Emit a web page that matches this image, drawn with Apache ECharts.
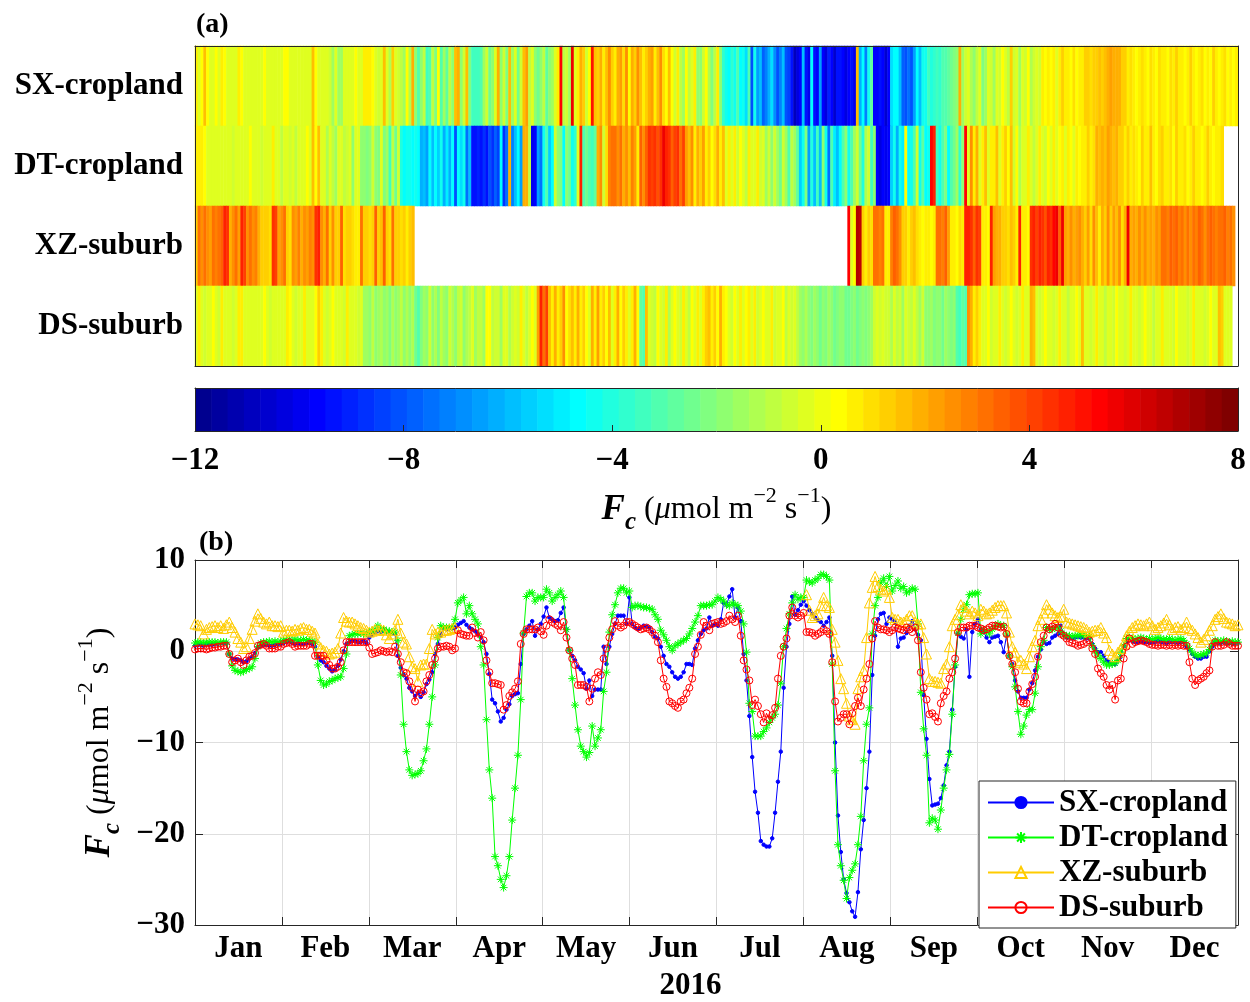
<!DOCTYPE html>
<html>
<head>
<meta charset="utf-8">
<script src="https://cdn.jsdelivr.net/npm/echarts@6/dist/echarts.min.js"></script>
<style>
  html, body { margin: 0; padding: 0; background: #fff; }
  #chart { width: 1250px; height: 1002px; }
</style>
</head>
<body>
<div id="chart"></div>
<script>
const SITES = ["SX-cropland", "DT-cropland", "XZ-suburb", "DS-suburb"];
const MONTHS = ["Jan", "Feb", "Mar", "Apr", "May", "Jun", "Jul", "Aug", "Sep", "Oct", "Nov", "Dec"];
const MONTH_START = [0, 31, 60, 91, 121, 152, 182, 213, 244, 274, 305, 335]; // day index, 2016
const YEAR_LABEL = "2016";
const N_DAYS = 366;

// (a) daily Fc per site, colour rows (umol m-2 s-1)
const HM_SX = [
  0.5,-0.2,0.3,1.5,0.4,-0.3,-0.3,0.2,-0.3,0.5, 0.4,-0.3,-0.3,-0.2,-0.3,0.5,0.4,-0.3,-0.3,-0.2,
  -0.3,-0.3,-0.2,-0.3,0.3,-0.3,-0.3,-0.2,-0.3,-0.3, -0.2,0.3,0.4,-0.3,-0.3,-0.2,-0.3,-0.3,-0.3,-0.2,
  -0.3,1.5,0.3,-0.3,-0.3,-0.3,-0.2,-0.5,-1.5,-0.3, -1.5,-1.5,-0.4,-0.3,-0.2,-0.3,0.3,-0.4,-0.3,0.5,
  0.5,0.6,0.4,-0.2,-0.5,-0.3,1.6,-0.4,-1.2,1.4, -0.3,-0.5,-0.8,-1.5,0.3,-1.2,1.8,-2.0,-3.2,-1.8,
  -0.8,-3.3,-3.0,-1.0,-2.2,0.3,-3.2,-1.6,-2.8,-0.8, -1.9,1.7,2.0,-1.8,-0.6,1.5,-2.2,-3.5,-3.4,-3.3,
  -3.0,-1.5,-0.5,-2.6,-1.8,-0.3,1.8,-1.8,-0.6,-2.2, 1.7,-1.6,-0.4,-2.6,-0.5,1.6,2.1,-1.0,-0.3,-1.9,
  -2.4,-1.7,-0.9,-2.8,-2.0,-1.5,-0.3,0.8,5.2,-0.8, -0.5,-1.4,5.5,-0.4,0.6,1.8,1.2,-0.5,0.3,5.0,
  1.6,1.3,2.0,0.8,1.5,2.4,1.2,0.6,1.8,2.3, 1.0,2.5,0.4,2.0,1.3,2.6,1.5,0.5,1.2,1.8,
  2.2,0.6,1.6,2.6,1.0,0.2,1.5,0.4,-0.6,0.6, -0.8,-1.5,0.4,-1.0,-0.3,0.5,-1.8,-2.0,-0.6,0.2,
  -1.2,-2.2,-0.8,0.5,-1.8,-3.6,-4.2,-4.6,-3.8,-4.2, -3.0,-4.8,-4.2,-5.4,-3.2,-8.0,-4.5,-6.5,-6.0,-7.8,
  -7.2,-6.3,-5.2,-7.0,-8.0,-7.3,-6.0,-8.2,-8.5,-9.4, -11.0,-10.2,-9.6,-6.0,-9.5,-10.0,-4.8,-9.2,-9.8,-6.5,
  -9.6,-10.2,-9.0,-9.8,-10.6,-9.5,-9.2,-9.8,-10.4,-9.6, -9.2,-10.0,1.6,-6.2,-4.8,-7.2,-4.5,-2.8,-9.6,-9.8,
  -9.4,-9.8,-10.6,-9.6,-5.4,-4.6,-4.8,-6.0,-7.8,-8.2, -7.6,-8.0,-6.6,-4.8,-5.8,-4.5,-4.2,-3.5,-4.0,-3.8,
  -3.5,-3.6,-3.0,-3.2,-2.8,-2.5,-2.2,-2.0,1.8,-1.5, -0.6,-0.3,-1.2,-2.0,-1.0,-0.3,-2.2,-1.4,-0.4,-0.5,
  -1.6,-0.3,-0.6,0.3,-0.4,-1.0,1.2,-0.5,-0.3,-1.4, -0.4,-0.5,0.4,-1.2,-0.6,-0.3,-0.5,0.5,0.3,0.8,
  0.4,0.8,-0.2,0.6,1.2,0.5,0.8,0.4,1.0,0.3, 0.6,0.8,1.2,1.3,1.0,1.4,1.2,1.5,1.3,1.6,
  2.0,2.1,1.8,2.0,1.9,1.4,1.2,0.8,1.0,0.6, 0.4,0.8,1.0,0.5,0.4,0.9,0.6,0.4,1.1,0.7,
  0.5,0.4,1.0,0.6,1.3,0.8,0.5,0.4,0.7,1.4, 0.8,0.4,0.5,1.0,0.4,0.6,0.4,1.2,0.5,0.4,
  0.6,1.0,0.4,0.5,0.4,0.5
];
const HM_DT = [
  0.5,0.5,0.5,0.4,-0.3,-0.2,-0.3,-0.3,-0.4,-0.3, -0.2,-0.3,-0.3,-0.5,-0.3,-0.2,-0.3,-0.3,-0.4,0.4,
  -0.3,-0.3,-0.2,-0.6,-0.3,-0.3,-0.2,0.5,-0.3,-0.3, -0.8,-0.4,-0.3,-0.6,-0.3,-1.0,-0.3,-0.4,-0.3,0.3,
  -0.3,1.5,0.4,1.6,-0.3,-0.4,-1.2,-0.3,-0.8,-1.6, -0.4,-0.3,-1.0,-0.5,-0.3,-1.8,-0.4,-0.3,-2.0,-2.0,
  -2.2,-1.8,-0.6,-2.0,-2.2,-0.4,-2.1,-1.5,-3.5,-1.0, -2.4,-0.6,-4.0,-4.6,-4.5,-4.3,-4.6,-4.4,-4.8,-6.2,
  -5.8,-6.4,-4.6,-6.0,-4.7,-5.6,-4.4,-6.2,-5.0,-6.3, -4.6,-8.0,-4.6,-5.2,-4.5,-7.5,-6.0,-9.2,-9.4,-9.0,
  -9.2,-8.8,-9.4,-8.0,-8.6,-7.8,-8.4,-4.6,-8.6,-7.5, 1.8,-7.2,-5.8,-4.8,-6.5,1.8,2.0,-1.0,-10.0,-9.8,
  -6.5,-7.5,-4.5,-3.2,-5.5,-4.6,-0.5,-1.8,-2.2,-4.6, -1.9,-2.6,-4.4,-3.6,-0.3,4.8,-3.0,-2.5,-3.2,-3.4,
  -2.8,2.0,2.4,-0.5,1.0,2.9,3.1,3.0,2.6,3.2, 2.0,2.5,1.5,2.8,2.2,0.8,3.5,2.6,3.6,4.4,
  4.2,4.5,3.8,4.5,5.6,4.6,4.4,3.6,4.2,4.4, 3.0,4.0,2.2,1.6,2.4,0.8,1.8,1.4,2.2,0.6,
  1.3,0.4,1.0,1.8,0.5,1.6,-0.3,0.6,-0.3,0.8, -0.5,0.4,-0.3,-0.8,0.5,-0.4,-0.3,0.6,-0.6,-0.4,
  -1.5,-0.6,-2.0,-0.5,-1.4,-2.4,-0.5,-1.6,-3.0,-0.8, -1.6,-2.8,-5.6,-4.5,-2.2,-6.5,-4.0,-5.8,-3.5,-6.0,
  -1.8,-4.5,-7.4,-3.2,-5.0,-6.0,-4.6,-3.0,-2.0,-4.5, -3.0,-1.5,-0.5,-2.5,-4.0,-1.2,-0.6,-3.4,-2.0,-9.8,
  -10.2,-9.8,-10.0,-9.6,-5.6,-4.5,-6.2,-4.5,-5.0,0.4, -4.6,-4.3,-3.0,-0.5,-4.5,-2.8,-4.6,-4.4,5.4,4.6,
  -3.5,-4.2,-3.0,-2.2,-4.6,-3.2,-2.5,-1.6,-3.8,-2.0, 5.2,-0.3,2.4,0.5,1.8,-0.3,0.6,1.5,-0.4,0.8,
  0.5,1.6,-0.3,0.8,1.2,0.4,1.6,-0.5,0.3,-1.2, -0.4,-0.3,0.5,-0.3,-1.0,-0.4,0.5,-0.3,-0.5,0.4,
  -0.3,0.6,-0.4,0.4,0.8,-0.3,0.5,0.3,-0.4,0.6, 0.4,0.8,0.5,1.2,0.6,1.0,1.8,1.5,2.0,1.6,
  2.2,2.0,1.5,1.8,1.2,1.4,0.8,1.2,0.5,1.0, 0.6,0.4,1.2,0.6,0.8,1.5,0.5,0.4,0.9,1.2,
  0.6,0.5,1.0,0.4,1.3,0.7,0.5,1.0,0.4,0.6, 1.2,0.5,0.8,0.4,0.5,1.4,0.6,0.4,0.8,0.5,
  0.9,null,null,null,null,null
];
// XZ-suburb has no record from mid-March to mid-August
const HM_XZ_EARLY = [
  1.2,3.0,2.4,3.2,2.6,2.2,3.0,2.8,3.2,3.6, 4.6,4.4,2.0,2.6,3.0,2.2,4.6,4.2,2.6,3.0,
  2.4,2.8,2.0,1.2,1.4,1.3,1.0,4.5,4.2,2.2, 2.6,3.0,1.2,1.0,2.6,2.2,2.8,1.8,2.5,2.2,
  2.8,2.4,4.4,4.6,2.6,2.0,3.2,1.2,2.6,1.4, 1.2,3.4,1.0,1.4,1.2,1.0,0.5,0.6,3.2,1.4,
  1.2,1.0,1.3,3.6,1.2,1.5,3.4,1.3,1.0,3.0, 1.4,1.2,1.0,1.3,0.5,1.2,1.6
];
const HM_XZ_GAP = 152;
const HM_XZ_LATE = [
  5.4,-0.4,0.3,7.0,6.5,1.2,0.8,1.3,1.0,3.0, 3.2,2.8,3.0,0.5,0.6,2.8,3.4,3.0,2.6,1.2,
  1.4,0.8,1.2,1.5,1.0,0.5,0.4,0.6,0.5,0.4, 0.6,3.0,3.2,2.8,3.4,2.2,0.5,0.6,0.4,1.0,
  0.5,4.6,4.8,4.4,3.6,4.5,4.2,0.5,0.8,0.4, 4.6,2.2,2.0,1.8,1.2,1.3,1.0,1.5,1.2,0.8,
  4.8,0.5,0.6,0.4,4.4,4.6,4.2,4.8,4.5,3.8, 4.6,4.4,5.2,5.6,3.4,5.5,2.2,2.0,2.4,1.8,
  2.2,2.6,2.0,1.2,2.2,1.0,2.4,1.5,0.8,2.0, 1.4,2.5,1.2,2.2,1.6,2.4,1.0,2.0,5.6,2.0,
  2.2,1.8,2.4,2.0,2.6,1.8,2.2,2.0,2.4,2.2, 3.0,3.2,2.8,3.4,3.0,3.5,2.8,3.2,2.6,3.0,
  2.4,3.2,2.8,3.4,3.0,2.6,3.2,3.5,3.0,2.8, 3.2,3.0,3.4,2.8,3.0,2.6,null
];
const HM_DS = [
  -0.4,0.5,-0.3,-0.5,-0.3,-0.4,0.4,-0.3,-0.5,0.5, -0.3,-0.4,-0.3,-0.5,-0.3,0.5,0.6,-0.3,-0.4,-0.3,
  -0.2,-0.4,-0.3,-0.3,0.4,-0.3,-0.5,-0.3,-0.2,-0.4, -0.3,-0.4,0.5,0.4,-0.3,-0.5,-0.3,-0.3,0.5,-0.4,
  -0.3,-0.4,0.4,1.2,0.5,-0.3,-0.5,-0.3,0.4,-0.3, -0.4,-0.3,-0.5,0.5,-0.3,-0.4,-0.3,-0.5,-0.3,-1.4,
  -1.5,-1.8,-1.0,-2.0,-1.4,-1.2,-1.8,-1.4,-2.1,-1.3, -1.8,-1.5,-1.0,-2.0,-1.3,-1.7,-1.2,-2.6,-3.0,-2.2,
  -1.5,-2.0,-0.6,-1.8,-1.2,-2.2,-0.8,-1.5,-2.0,-0.5, -1.3,-1.8,-1.0,-0.5,-2.0,-1.1,-0.8,-0.4,-1.5,-1.0,
  -0.8,-1.6,0.4,0.3,-1.0,-0.5,-0.6,-1.5,-0.4,-0.3, -1.2,-0.5,-0.4,-0.6,0.5,-0.3,-1.0,-0.4,0.4,-0.3,
  2.2,4.6,3.0,4.2,1.6,0.6,1.8,0.5,1.2,2.4, 0.4,1.0,1.6,0.5,2.0,0.6,1.4,0.4,-0.3,1.8,
  0.5,2.2,0.6,1.2,0.4,1.5,-0.3,0.6,1.8,0.4, 1.2,0.5,-0.4,0.8,2.0,0.4,-2.8,-3.0,1.6,-0.4,
  -0.5,-1.0,0.4,-0.3,-0.6,0.5,-1.2,-0.4,0.4,-0.3, -0.5,0.6,-0.3,-1.0,0.4,-0.4,0.8,-0.3,0.5,1.2,
  1.6,0.5,1.4,0.4,1.8,0.5,0.4,-0.3,-0.5,0.4, -0.3,0.5,-0.4,0.4,0.8,-0.3,0.5,-0.5,-0.3,0.4,
  -0.4,-0.3,0.5,-0.6,-0.3,-0.4,0.4,-0.8,-0.3,-0.5, -0.4,-0.9,-1.5,-2.0,-1.2,-1.8,-2.2,-1.6,-2.0,-2.4,
  -1.8,-2.2,-1.6,-2.0,-2.5,-2.2,-1.8,-2.0,-2.4,-2.6, -2.2,-2.0,-2.6,-2.3,-1.8,-2.2,-2.0,-1.6,-0.6,-0.4,
  -0.5,-0.4,-0.6,-0.5,-1.2,-0.4,-0.8,-0.5,-1.5,-0.3, -0.6,-1.0,-0.4,-0.8,-1.6,-0.5,-1.8,-2.0,-1.5,-2.2,
  -1.8,-2.0,-2.4,-1.6,-2.0,-2.2,-1.8,-3.0,-3.4,-2.8, -3.2,2.4,1.8,0.6,1.2,0.5,-0.3,-0.4,0.4,-0.5,
  -0.3,-0.4,0.5,-0.3,-0.6,-0.4,0.4,-0.3,-0.5,-0.4, 0.5,-0.3,-0.4,1.8,1.5,-0.3,-0.5,-0.4,0.4,-0.3,
  -0.4,-0.6,-0.3,0.5,-0.4,-0.3,-0.8,-0.4,-0.3,0.4, -0.3,1.6,-0.4,-0.3,-0.6,-0.4,0.5,-0.3,-0.4,-1.0,
  -0.4,-0.3,-0.5,0.4,-0.3,-0.4,-0.6,-0.3,0.5,-0.4, -0.3,-0.5,-0.4,0.4,-0.3,-0.4,-0.8,-0.3,-0.4,0.5,
  -0.3,-0.4,-0.3,-0.5,0.4,-0.3,-0.4,-0.3,-0.6,-0.4, 0.5,-0.3,-0.4,-0.3,-0.5,-0.4,0.4,-0.3,-0.4,1.6,
  1.4,-0.3,-0.4,-0.3,null,null
];

// (b) daily Fc curves
const SX_FC = [
  0.6,0.7,0.7,0.6,0.8,0.7,0.7,0.8,0.8,0.9,0.9,0.9,
  -0.3,-0.8,-0.9,-0.9,-1.0,-1.2,-1.1,-0.8,-0.6,-0.2,0.4,
  0.6,0.7,0.7,0.6,0.6,0.7,0.8,0.8,0.9,1.0,1.1,0.9,0.8,0.9,0.8,0.8,0.9,0.9,0.8,0.5,
  -0.6,-1.0,-1.2,-1.6,-1.9,-2.2,-2.0,-1.6,-0.9,0.0,
  0.8,1.0,1.1,1.1,1.0,1.0,1.1,0.9,1.5,1.8,2.0,2.2,2.1,2.4,2.2,2.0,2.1,1.9,
  -0.5,-1.8,-2.6,-3.0,-4.0,-4.4,-4.9,-4.6,-5.0,-4.5,-3.6,-3.1,-2.3,-0.3,0.8,
  1.8,2.6,2.4,2.6,2.5,2.6,2.9,3.1,3.3,2.9,2.6,2.4,2.2,1.9,1.5,1.0,-0.3,-2.5,
  -5.3,-5.7,-6.6,-7.7,-7.3,-6.4,-5.8,-4.9,-4.7,-4.6,-1.4,1.9,2.4,
  2.8,3.3,1.7,2.4,3.0,3.8,4.8,3.7,3.5,3.3,3.4,4.2,4.8,2.4,0.1,
  -0.5,-1.0,-1.7,-2.0,-2.4,-4.1,-3.2,-4.9,-4.2,-4.2,-4.2,0.5,-1.4,0.5,1.9,3.0,
  3.9,3.9,3.9,3.0,5.9,3.0,2.6,2.4,2.6,2.8,2.7,2.6,2.1,1.6,1.4,0.5,
  -0.5,-1.4,-1.7,-2.3,-2.8,-3.0,-2.8,-2.3,-1.4,-1.4,-1.5,0.3,1.2,1.9,2.3,2.5,3.7,2.8,
  3.0,2.8,3.5,5.3,5.1,6.0,6.8,3.7,4.8,3.3,-0.3,
  -3.2,-7.1,-11.6,-15.4,-17.7,-20.8,-21.2,-21.4,-21.4,-20.5,-17.7,-14.3,-11.0,-4.0,0.5,3.0,
  6.0,4.0,4.5,5.1,5.5,5.0,4.5,4.1,3.7,3.4,3.2,2.8,3.2,3.7,
  -0.5,-10.0,-18.0,-22.0,-25.0,-26.5,-27.5,-28.5,-29.1,-26.4,
  -21.7,-18.5,-15.0,-11.0,-2.6,1.7,3.5,4.1,4.2,3.0,
  3.7,3.5,3.2,0.5,1.4,1.5,2.0,2.8,3.3,2.4,
  1.8,1.2,-4.8,-9.6,-14.0,-16.9,-16.8,-16.7,-16.1,-14.7,
  -12.5,-11.0,-6.4,-1.7,1.9,1.6,1.4,2.4,-2.8,2.1,
  3.0,3.5,2.4,2.1,1.5,1.0,1.5,1.6,1.7,1.0,
  -0.1,1.7,-0.5,-1.4,-3.2,-4.4,-5.1,-5.1,-5.1,-4.2,
  -3.5,-2.1,-0.6,0.2,1.0,0.8,0.9,1.5,1.7,1.9,
  2.8,1.8,1.5,1.5,1.4,1.5,1.6,1.5,1.5,1.4,
  1.4,0.8,0.3,-0.1,-0.1,-0.5,-1.0,-1.2,-1.4,-1.4,
  -1.0,-0.6,0.6,1.0,1.4,1.1,1.0,1.0,1.1,1.0,
  1.0,0.9,1.0,1.0,1.1,1.0,1.0,0.9,1.0,1.0,
  1.0,0.9,1.0,1.0,0.5,0.2,-0.3,-0.6,-0.8,-0.8,
  -0.6,-0.6,0.0,0.5,1.0,0.9,0.9,1.0,0.9,0.9,
  0.8,0.9,0.9
];
const DT_FC = [
  0.9,1.0,1.0,0.9,1.0,1.0,1.0,1.0,0.9,1.0,1.0,1.0,
  -0.3,-1.6,-2.1,-2.2,-2.3,-2.2,-2.0,-1.9,-1.7,-0.8,0.5,
  0.9,1.0,1.0,1.1,1.0,1.1,1.0,1.1,1.2,1.2,1.3,1.2,1.3,1.2,1.2,1.3,1.2,1.2,1.1,1.0,
  -1.5,-3.2,-3.7,-3.6,-3.3,-3.2,-3.0,-2.9,-2.8,-1.9,
  -0.3,1.7,1.8,1.9,1.9,2.0,1.9,2.0,2.1,2.2,2.4,2.8,2.4,2.4,2.2,2.2,2.1,2.1,
  1.2,-2.6,-8.0,-11.0,-13.0,-13.6,-13.5,-13.4,-13.1,-12.0,-10.7,-8.0,-5.0,-1.5,1.5,
  2.8,2.6,2.6,2.6,2.6,3.5,5.3,5.6,5.9,4.1,5.0,4.1,3.5,3.0,0.5,-1.5,-7.5,-13.0,
  -16.1,-22.5,-23.5,-25.0,-25.9,-24.6,-22.5,-18.5,-15.0,-11.4,-5.3,2.0,6.0,
  6.4,6.4,5.5,5.9,5.9,5.9,6.8,6.4,5.5,5.9,6.2,6.6,5.9,2.4,0.1,
  -3.0,-5.9,-8.6,-10.4,-11.0,-11.6,-11.1,-8.2,-10.4,-9.5,-8.6,-4.4,-2.3,2.1,4.0,5.1,
  6.4,6.9,6.9,6.4,6.6,4.8,5.0,5.0,4.9,4.8,4.8,4.7,4.6,4.0,3.5,2.3,
  1.8,1.2,0.5,0.1,0.6,0.8,1.0,1.2,1.4,1.9,2.5,3.2,3.9,5.0,5.0,5.0,5.1,5.1,
  5.5,5.9,5.7,5.5,5.1,5.0,5.3,5.1,5.0,4.4,3.0,
  -0.1,-5.7,-6.6,-9.3,-9.3,-9.3,-8.8,-8.4,-7.8,-7.3,-6.9,-5.9,-3.5,0.5,2.5,4.1,
  5.3,6.2,5.7,5.9,5.9,7.8,7.6,7.5,7.8,8.0,8.4,8.4,8.2,7.8,
  -1.4,-13.1,-21.2,-23.5,-25.1,-27.1,-24.8,-24.0,-23.3,-21.2,
  -18.1,-12.0,-8.0,-6.2,1.9,5.0,5.9,7.5,8.0,7.1,
  8.2,6.6,7.2,7.7,6.9,7.1,6.4,6.6,6.9,6.8,
  3.0,-4.5,-8.5,-11.4,-18.8,-18.3,-18.5,-19.5,-17.4,-15.0,
  -13.0,-11.3,-6.9,-1.5,2.0,3.5,4.6,5.1,6.2,6.3,
  6.3,6.4,1.9,2.4,2.2,1.9,2.4,2.7,3.0,2.8,
  2.8,1.9,-0.5,-1.7,-3.9,-6.6,-9.1,-8.2,-7.0,-6.4,
  -6.4,-4.6,-1.7,0.5,1.2,2.6,2.4,2.4,2.6,2.6,
  2.2,1.8,1.7,1.7,1.6,1.7,1.7,1.8,1.7,1.7,
  1.6,0.6,0.0,-0.5,-0.8,-1.2,-1.5,-1.5,-1.4,-1.3,
  -1.0,-0.1,0.6,1.4,1.5,1.4,1.3,1.4,1.5,1.4,
  1.3,1.4,1.3,1.4,1.5,1.4,1.3,1.3,1.4,1.3,
  1.2,1.3,1.4,1.2,0.8,0.3,-0.1,-0.4,-0.5,-0.4,
  -0.3,-0.2,0.2,0.8,1.2,1.1,1.1,1.2,1.1,1.0,
  1.1,1.0,1.0
];
const XZ_FC_EARLY = [
  3.0,2.9,2.8,1.9,2.4,2.6,2.7,2.8,2.6,2.8,2.5,2.9,
  3.2,2.6,2.1,1.4,1.0,0.3,0.5,1.4,2.4,3.3,4.1,
  3.6,3.2,3.0,3.2,2.8,2.8,2.7,2.8,2.1,2.3,2.3,2.2,2.4,2.3,2.5,2.6,2.4,2.4,2.2,2.0,
  0.8,0.4,0.1,0.0,-0.3,-0.2,-0.1,0.3,2.0,3.7,
  3.3,3.2,3.2,3.0,2.8,2.6,2.5,2.3,2.1,2.2,2.4,2.3,2.4,2.3,1.8,1.4,1.9,2.3,
  3.5,2.0,1.0,0.8,-0.6,-1.7,-1.9,-3.3,-1.5,-1.4,-1.4,0.3,2.4,1.9,2.1,2.1,2.3,2.3,2.4,2.5,2.6
];
const XZ_FC_GAP = 122;
const XZ_FC_LATE = [
  6.2,4.5,3.7,3.9,4.1,5.0,5.9,5.0,4.8,2.4,
  1.0,-1.0,-3.0,-4.1,-5.7,-7.1,-7.5,-8.0,-4.1,-2.8,
  -2.1,1.5,5.3,7.0,8.2,7.1,6.8,6.6,6.8,5.9,
  3.7,3.5,3.5,3.2,3.2,3.5,3.9,3.9,3.2,3.0,
  3.0,1.5,-0.3,-3.0,-3.3,-3.3,-3.4,-3.5,-1.9,-1.4,
  0.5,2.8,3.5,4.0,5.1,4.8,4.4,4.1,4.4,4.2,
  3.9,4.6,4.4,4.1,4.2,4.5,4.8,5.0,5.0,5.0,
  4.2,2.1,0.5,-0.1,-1.2,-1.0,-1.4,-1.9,-0.6,0.5,
  1.2,2.8,3.5,4.2,5.1,4.6,4.2,3.9,3.7,3.8,
  4.6,3.2,3.1,3.0,2.9,2.8,2.7,2.6,2.4,2.1,
  2.2,2.3,2.3,2.6,2.0,1.5,0.1,-0.3,-0.6,-0.1,
  0.3,0.8,1.7,2.2,2.6,2.8,3.0,2.9,2.8,3.0,
  3.2,2.8,2.4,2.6,2.8,3.1,3.5,2.9,2.4,2.6,
  2.7,2.4,2.6,3.2,2.5,2.3,1.9,1.5,1.0,1.3,
  1.7,2.3,2.8,3.5,3.8,4.1,3.6,3.2,3.1,3.0,
  2.8,2.9
];
const DS_FC = [
  0.2,0.3,0.3,0.3,0.2,0.3,0.4,0.4,0.5,0.5,0.6,0.6,
  -0.3,-1.2,-1.0,-0.8,-1.2,-1.5,-1.0,-0.6,-0.5,-0.2,0.6,
  0.7,0.8,0.6,0.3,0.3,0.3,0.5,0.5,0.8,0.9,1.0,0.8,0.5,0.6,0.6,0.6,0.6,0.8,0.8,-0.5,
  -0.5,-0.5,-0.5,-1.0,-1.5,-1.9,-1.9,-1.7,-1.2,0.1,
  1.0,1.0,1.0,1.0,1.0,1.0,1.0,1.0,0.4,-0.3,-0.2,-0.1,0.1,0.0,-0.1,0.0,-0.1,0.5,
  -0.3,-1.2,-2.3,-2.4,-3.3,-4.0,-5.5,-4.2,-4.6,-4.4,-3.3,-2.6,-1.5,-0.8,0.3,
  0.5,0.5,0.6,0.5,0.1,0.3,2.3,1.9,1.8,1.7,1.7,2.6,2.0,1.5,2.1,1.2,-1.0,-2.3,
  -3.5,-3.5,-3.6,-3.7,-6.4,-5.9,-4.9,-4.5,-4.1,-3.3,0.8,1.9,2.4,
  2.4,2.4,2.4,2.6,2.2,1.8,2.8,3.5,3.2,3.0,2.8,2.3,3.2,1.5,0.1,
  -0.8,-1.5,-3.7,-3.7,-3.7,-3.9,-5.5,-4.1,-3.0,-2.3,-2.6,-0.8,0.3,1.5,2.4,3.3,
  2.8,2.6,2.8,3.2,3.2,3.0,2.8,2.6,2.4,2.5,2.6,2.4,2.1,1.7,1.0,-1.0,
  -3.0,-3.9,-5.5,-5.7,-6.0,-6.2,-5.5,-5.3,-4.6,-4.0,-3.0,-0.3,0.5,1.8,3.2,2.8,2.3,3.0,
  3.1,3.2,3.0,3.1,3.3,3.9,3.5,3.2,3.9,1.7,-1.0,
  -2.0,-3.2,-5.9,-5.3,-6.0,-6.9,-7.8,-6.8,-7.5,-7.0,-6.2,-3.0,-0.5,0.5,1.4,3.9,
  4.8,3.9,3.7,3.9,4.2,2.1,2.1,2.0,1.7,1.9,2.1,2.4,2.2,1.9,
  -1.2,-5.5,-7.7,-7.3,-6.9,-6.9,-8.0,-6.8,-6.0,-5.1,
  -6.0,-4.2,-3.0,-1.4,1.4,3.3,2.6,2.4,2.4,2.3,
  2.1,2.3,2.6,2.5,2.4,2.3,2.6,2.4,2.1,2.6,
  1.2,-2.3,-4.0,-5.3,-6.9,-6.8,-7.2,-7.7,-5.7,-4.9,
  -4.4,-3.0,-2.3,-0.8,2.1,2.6,2.6,2.6,2.8,2.8,
  2.8,2.6,2.5,2.3,2.4,2.6,2.8,2.8,2.7,2.6,
  2.7,1.9,-0.5,-1.4,-2.3,-4.1,-5.5,-5.7,-5.7,-4.4,
  -3.6,-2.8,-0.6,1.0,1.7,2.6,2.4,2.7,3.0,2.6,
  1.9,1.7,1.4,1.0,0.9,0.8,0.6,0.7,0.8,1.0,
  1.2,0.3,-0.3,-1.9,-2.4,-2.8,-3.7,-4.2,-3.7,-5.3,
  -3.2,-3.0,-0.8,0.5,1.4,0.8,1.0,1.1,1.2,1.1,
  1.0,0.8,0.7,0.7,0.6,0.7,0.7,0.6,0.7,0.6,
  0.7,0.6,0.7,0.6,0.6,-1.2,-3.0,-3.7,-3.2,-3.0,
  -2.8,-2.4,-2.1,0.5,1.0,0.6,0.6,0.7,1.0,0.8,
  0.6,0.6,0.6
];

const HM_XZ = [...HM_XZ_EARLY, ...Array(HM_XZ_GAP).fill(null), ...HM_XZ_LATE];
const XZ_FC = [...XZ_FC_EARLY, ...Array(XZ_FC_GAP).fill(null), ...XZ_FC_LATE];
const HEAT_ROWS = [HM_SX, HM_DT, HM_XZ, HM_DS];
const CURVES = [SX_FC, DT_FC, XZ_FC, DS_FC];

const CB_MIN = -12, CB_MAX = 8;
const SERIF = '"Liberation Serif", "Times New Roman", serif';
const INK = "#262626";

// MATLAB jet(64)
function jet64() {
  const m = 64, n = 16, u = [];
  for (let i = 1; i <= n; i++) u.push(i / n);
  for (let i = 1; i < n; i++) u.push(1);
  for (let i = n; i >= 1; i--) u.push(i / n);
  const J = Array.from({ length: m }, () => [0, 0, 0]);
  u.forEach((val, k) => {
    const g = n / 2 + k + 1, r = g + n, b = g - n;
    if (g >= 1 && g <= m) J[g - 1][1] = val;
    if (r >= 1 && r <= m) J[r - 1][0] = val;
    if (b >= 1 && b <= m) J[b - 1][2] = val;
  });
  return J.map(c => "rgb(" + c.map(v => Math.round(v * 255)).join(",") + ")");
}
const JET = jet64();
const STEP = (CB_MAX - CB_MIN) / JET.length;

const heatCells = [];
HEAT_ROWS.forEach((row, r) => row.forEach((v, d) => { if (v != null) heatCells.push([d, r, v]); }));

const minus = v => (v < 0 ? "\u2212" + Math.abs(v) : String(v));
const isMonthStart = idx => MONTH_START.includes(idx);
const frame = { onZero: false, lineStyle: { color: INK, width: 1 } };
const tick = len => ({ inside: true, length: len, lineStyle: { color: INK, width: 1 } });
const fcRich = {
  f: { fontFamily: SERIF, fontSize: 35, fontWeight: "bold", fontStyle: "italic", lineHeight: 50, color: "#000" },
  sub: { fontFamily: SERIF, fontSize: 25, fontWeight: "bold", fontStyle: "italic", verticalAlign: "bottom", color: "#000" },
  n: { fontFamily: SERIF, fontSize: 32, color: "#000" },
  mu: { fontFamily: SERIF, fontSize: 32, fontStyle: "italic", color: "#000" },
  sup: { fontFamily: SERIF, fontSize: 22, verticalAlign: "top", color: "#000" },
};
const fcName = "{f|F}{sub|c}{n| (}{mu|\u03bc}{n|mol m}{sup|\u22122}{n| s}{sup|\u22121}{n|)}";
const boldLabel = { fontFamily: SERIF, fontWeight: "bold", fontSize: 31, color: "#000" };

const days = Array.from({ length: N_DAYS }, (_, i) => i);

const SERIES_STYLE = [
  { color: "#0000ff", symbol: "circle", symbolSize: 3.5, fill: "#0000ff" },
  { color: "#00ff00", symbol: "path://M0,-5L0,5M-5,0L5,0M-3.5,-3.5L3.5,3.5M-3.5,3.5L3.5,-3.5", symbolSize: 8, fill: "#00ff00" },
  { color: "#ffcc00", symbol: "triangle", symbolSize: 10, fill: "rgba(255,255,255,0)" },
  { color: "#ff0000", symbol: "circle", symbolSize: 7, fill: "rgba(255,255,255,0)" },
];

const lineSeries = SITES.map((name, k) => ({
  name,
  type: "line",
  xAxisIndex: 4,
  yAxisIndex: 4,
  data: CURVES[k].map((v, i) => [i, v]),
  connectNulls: false,
  showSymbol: true,
  symbol: SERIES_STYLE[k].symbol,
  symbolSize: SERIES_STYLE[k].symbolSize,
  lineStyle: { color: SERIES_STYLE[k].color, width: 1 },
  itemStyle: { color: SERIES_STYLE[k].fill, borderColor: SERIES_STYLE[k].color, borderWidth: 1 },
  emphasis: { disabled: true },
  z: 3 + k,
}));

const option = {
  animation: false,
  backgroundColor: "#fff",
  grid: [
    { left: 195, right: 12, top: 46, height: 320 },
    { left: 195, right: 12, top: 388, height: 43 },
    { left: 195, right: 12, top: 560, height: 370 },
  ],
  visualMap: {
    type: "piecewise", show: false, seriesIndex: 0, dimension: 2,
    pieces: JET.map((c, i) => ({ gte: CB_MIN + i * STEP, lt: i === JET.length - 1 ? CB_MAX + 1 : CB_MIN + (i + 1) * STEP, color: c })),
  },
  xAxis: [
    { gridIndex: 0, type: "category", data: days, position: "bottom", z: 10, axisLine: frame,
      axisTick: { ...tick(8), interval: isMonthStart }, axisLabel: { show: false }, splitLine: { show: false } },
    { gridIndex: 0, type: "category", data: days, position: "top", z: 10, axisLine: frame,
      axisTick: { ...tick(8), interval: isMonthStart }, axisLabel: { show: false }, splitLine: { show: false } },
    { gridIndex: 1, type: "value", min: CB_MIN, max: CB_MAX, interval: 4, position: "bottom", z: 10, axisLine: frame,
      axisTick: tick(6), axisLabel: { ...boldLabel, margin: 14, formatter: minus }, splitLine: { show: false },
      name: fcName, nameLocation: "middle", nameGap: 54, nameTextStyle: { rich: fcRich } },
    { gridIndex: 1, type: "value", min: CB_MIN, max: CB_MAX, position: "top", z: 10, axisLine: frame,
      axisTick: { show: false }, axisLabel: { show: false }, splitLine: { show: false } },
    { gridIndex: 2, type: "value", min: 0, max: N_DAYS - 1, interval: (N_DAYS - 1) / 12, position: "bottom", axisLine: frame,
      axisTick: tick(8), axisLabel: { show: false },
      splitLine: { show: true, lineStyle: { color: "#dedede", width: 1 } } },
    { gridIndex: 2, type: "category", data: MONTHS, position: "bottom", axisLine: { show: false, onZero: false },
      axisTick: { show: false }, axisLabel: { ...boldLabel, margin: 8 },
      name: YEAR_LABEL, nameLocation: "middle", nameGap: 45,
      nameTextStyle: { ...boldLabel, padding: [0, 52, 0, 0] } },
    { gridIndex: 2, type: "value", min: 0, max: N_DAYS - 1, interval: (N_DAYS - 1) / 12, position: "top", axisLine: frame,
      axisTick: tick(8), axisLabel: { show: false }, splitLine: { show: false } },
  ],
  yAxis: [
    { gridIndex: 0, type: "category", data: SITES, inverse: true, position: "left", z: 10, axisLine: frame,
      axisTick: { ...tick(8), alignWithLabel: true }, axisLabel: { ...boldLabel, margin: 12 }, splitLine: { show: false } },
    { gridIndex: 0, type: "category", data: SITES, inverse: true, position: "right", z: 10, axisLine: frame,
      axisTick: { ...tick(8), alignWithLabel: true }, axisLabel: { show: false }, splitLine: { show: false } },
    { gridIndex: 1, type: "value", min: 0, max: 1, position: "left", z: 10, axisLine: frame,
      axisTick: { show: false }, axisLabel: { show: false }, splitLine: { show: false } },
    { gridIndex: 1, type: "value", min: 0, max: 1, position: "right", z: 10, axisLine: frame,
      axisTick: { show: false }, axisLabel: { show: false }, splitLine: { show: false } },
    { gridIndex: 2, type: "value", min: -30, max: 10, interval: 10, position: "left", axisLine: frame,
      axisTick: tick(8), axisLabel: { ...boldLabel, margin: 10, formatter: minus },
      splitLine: { show: true, lineStyle: { color: "#dedede", width: 1 } },
      name: fcName, nameLocation: "middle", nameGap: 70, nameRotate: 90, nameTextStyle: { rich: fcRich } },
    { gridIndex: 2, type: "value", min: -30, max: 10, interval: 10, position: "right", axisLine: frame,
      axisTick: tick(8), axisLabel: { show: false }, splitLine: { show: false } },
  ],
  legend: {
    data: SITES, left: 979, top: 781, orient: "vertical",
    backgroundColor: "#fff", borderColor: INK, borderWidth: 1, borderRadius: 0,
    padding: [6, 8, 5, 8], itemGap: 4, itemWidth: 66, itemHeight: 14,
    textStyle: { ...boldLabel, fontSize: 31, padding: [2, 0, 0, 0] },
    z: 10,
  },
  graphic: [
    { type: "text", left: 196, top: 11, style: { text: "(a)", font: 'bold 28px "Liberation Serif"', fill: "#000" } },
    { type: "text", left: 199, top: 529, style: { text: "(b)", font: 'bold 28px "Liberation Serif"', fill: "#000" } },
  ],
  series: [
    { type: "heatmap", xAxisIndex: 0, yAxisIndex: 0, data: heatCells, progressive: 0,
      itemStyle: { borderWidth: 0 }, emphasis: { disabled: true } },
    { type: "custom", xAxisIndex: 2, yAxisIndex: 2,
      data: JET.map((c, i) => [CB_MIN + i * STEP, CB_MIN + (i + 1) * STEP, i]),
      renderItem: (params, api) => {
        const p0 = api.coord([api.value(0), 1]);
        const p1 = api.coord([api.value(1), 0]);
        return { type: "rect", shape: { x: p0[0], y: p0[1], width: p1[0] - p0[0] + 0.6, height: p1[1] - p0[1] },
                 style: { fill: JET[api.value(2)] } };
      } },
    ...lineSeries,
  ],
};

const chart = echarts.init(document.getElementById("chart"));
chart.setOption(option);
window.addEventListener("resize", () => chart.resize());
</script>
</body>
</html>
